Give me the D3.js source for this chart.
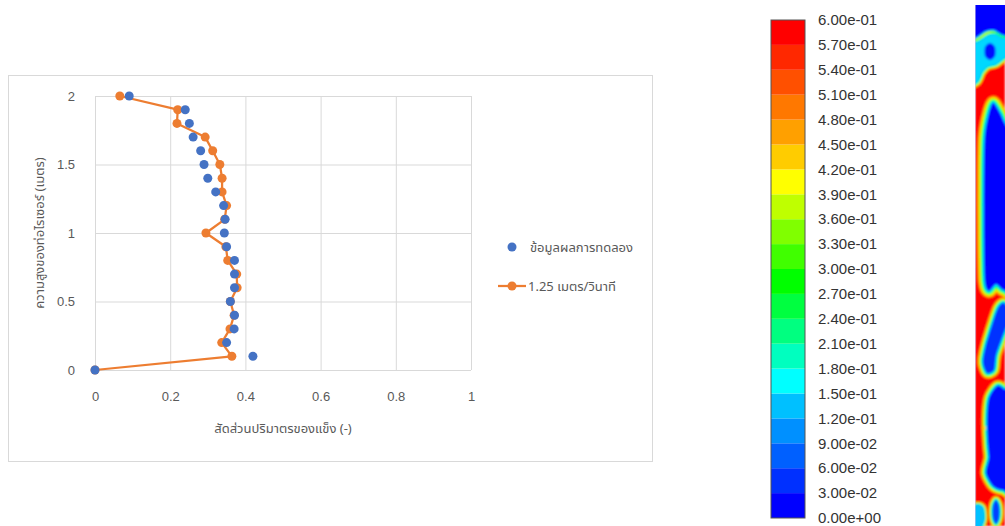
<!DOCTYPE html>
<html>
<head>
<meta charset="utf-8">
<script src="https://cdn.jsdelivr.net/npm/d3@7/dist/d3.min.js"></script>
<style>
  html, body { margin: 0; padding: 0; background: #ffffff; }
  svg { display: block; }
  .thai { font-family: "Noto Sans Thai", "Leelawadee UI", Tahoma, "Liberation Sans", "DejaVu Sans", sans-serif; }
</style>
</head>
<body>
<svg id="chart" width="1005" height="526"></svg>
<script>
// Riser height (m) for each measurement level
const heights = [0, 0.1, 0.2, 0.3, 0.4, 0.5, 0.6, 0.7, 0.8, 0.9, 1.0,
                 1.1, 1.2, 1.3, 1.4, 1.5, 1.6, 1.7, 1.8, 1.9, 2.0];
// Experimental solid volume fraction
const experiment = [0, 0.42, 0.35, 0.37, 0.371, 0.36, 0.371, 0.371, 0.371, 0.35, 0.344,
                    0.346, 0.342, 0.321, 0.30, 0.29, 0.281, 0.261, 0.251, 0.24, 0.091];
// Simulated solid volume fraction at 1.25 m/s
const simulation = [0, 0.364, 0.337, 0.359, 0.37, 0.36, 0.378, 0.377, 0.353, 0.348, 0.295,
                    0.345, 0.35, 0.338, 0.338, 0.332, 0.313, 0.293, 0.218, 0.22, 0.066];
const xTicks = [0, 0.2, 0.4, 0.6, 0.8, 1];
const yTicks = [0, 0.5, 1, 1.5, 2];
const seriesNames = ["ข้อมูลผลการทดลอง", "1.25 เมตร/วินาที"];
const xTitle = "สัดส่วนปริมาตรของแข็ง (-)";
const yTitle = "ความสูงของท่อไรเซอร์ (เมตร)";

// Contour legend levels and band colours (bottom to top)
const contourLevels = ["0.00e+00", "3.00e-02", "6.00e-02", "9.00e-02", "1.20e-01", "1.50e-01",
  "1.80e-01", "2.10e-01", "2.40e-01", "2.70e-01", "3.00e-01", "3.30e-01", "3.60e-01",
  "3.90e-01", "4.20e-01", "4.50e-01", "4.80e-01", "5.10e-01", "5.40e-01", "5.70e-01", "6.00e-01"];
const bandColors = ["#0000ff", "#0030ff", "#0060ff", "#0090ff", "#00c0ff", "#00ffff",
  "#00ffbf", "#00ff80", "#00ff40", "#00ff00", "#40ff00", "#80ff00", "#bfff00",
  "#ffff00", "#ffcc00", "#ffa000", "#ff7800", "#ff5000", "#ff2800", "#ff0000"];

const svg = d3.select("#chart");
const C_BLUE = "#4472c4", C_ORANGE = "#ed7d31", C_TEXT = "#595959", C_GRID = "#d9d9d9";

// ---- chart frame ----
svg.append("rect").attr("x", 8.5).attr("y", 75.5).attr("width", 644).attr("height", 386)
  .attr("fill", "#fff").attr("stroke", C_GRID).attr("stroke-width", 1);

const x = d3.scaleLinear().domain([0, 1]).range([95, 471]);
const y = d3.scaleLinear().domain([0, 2]).range([370, 96]);

// gridlines + tick labels
const gx = svg.append("g").attr("transform", `translate(0,${y(0)})`)
  .call(d3.axisBottom(x).tickValues(xTicks).tickSize(-(y(0) - y(2))).tickPadding(22)
    .tickFormat(d3.format("~g")));
const gy = svg.append("g").attr("transform", `translate(${x(0)},0)`)
  .call(d3.axisLeft(y).tickValues(yTicks).tickSize(-(x(1) - x(0))).tickPadding(20)
    .tickFormat(d3.format("~g")));
[gx, gy].forEach(g => {
  g.select(".domain").remove();
  g.selectAll(".tick line").attr("stroke", C_GRID).attr("stroke-width", 1);
  g.selectAll(".tick text").attr("fill", C_TEXT).attr("font-size", 13)
    .attr("font-family", "'Liberation Sans', Arial, sans-serif");
});

// axis titles
svg.append("text").attr("class", "thai").attr("x", (x(0) + x(1)) / 2).attr("y", 433)
  .attr("text-anchor", "middle").attr("font-size", 13).attr("fill", C_TEXT).text(xTitle);
svg.append("text").attr("class", "thai")
  .attr("transform", `translate(44,${(y(0) + y(2)) / 2}) rotate(-90)`)
  .attr("text-anchor", "middle").attr("font-size", 13).attr("fill", C_TEXT).text(yTitle);

// simulated series (line + markers)
const pts = d => heights.map((h, i) => [d[i], h]);
const line = d3.line().x(d => x(d[0])).y(d => y(d[1]));
svg.append("path").datum(pts(simulation)).attr("d", line)
  .attr("fill", "none").attr("stroke", C_ORANGE).attr("stroke-width", 2.25)
  .attr("stroke-linejoin", "round");
svg.append("g").selectAll("circle").data(pts(simulation)).join("circle")
  .attr("cx", d => x(d[0])).attr("cy", d => y(d[1])).attr("r", 4.5).attr("fill", C_ORANGE);

// experimental markers
svg.append("g").selectAll("circle").data(pts(experiment)).join("circle")
  .attr("cx", d => x(d[0])).attr("cy", d => y(d[1])).attr("r", 4.5).attr("fill", C_BLUE);

// legend
const lg = svg.append("g");
lg.append("circle").attr("cx", 512).attr("cy", 247).attr("r", 4.5).attr("fill", C_BLUE);
lg.append("text").attr("class", "thai").attr("x", 530).attr("y", 252).attr("font-size", 13)
  .attr("fill", C_TEXT).text(seriesNames[0]);
lg.append("line").attr("x1", 498).attr("x2", 526).attr("y1", 286).attr("y2", 286)
  .attr("stroke", C_ORANGE).attr("stroke-width", 2.25);
lg.append("circle").attr("cx", 512).attr("cy", 286).attr("r", 4.5).attr("fill", C_ORANGE);
lg.append("text").attr("class", "thai").attr("x", 528).attr("y", 291).attr("font-size", 13)
  .attr("fill", C_TEXT).text(seriesNames[1]);

// ---- contour colour bar ----
const cb = d3.scaleLinear().domain([0, contourLevels.length - 1]).range([518, 20]);
const bar = svg.append("g");
bar.selectAll("rect").data(bandColors).join("rect")
  .attr("x", 771).attr("width", 34)
  .attr("y", (d, i) => cb(i + 1)).attr("height", (d, i) => cb(i) - cb(i + 1))
  .attr("fill", d => d);
bar.append("rect").attr("x", 771).attr("y", cb(contourLevels.length - 1)).attr("width", 34)
  .attr("height", cb(0) - cb(contourLevels.length - 1))
  .attr("fill", "none").attr("stroke", "#555").attr("stroke-width", 1);
bar.selectAll("text").data(contourLevels).join("text")
  .attr("x", 818).attr("y", (d, i) => cb(i)).attr("dy", "0.35em")
  .attr("font-family", "'Liberation Sans', Arial, sans-serif").attr("font-size", 15)
  .attr("fill", "#333").text(d => d);

// ---- volume fraction field in the riser (contour strip) ----
// Low-concentration pockets drawn as outlines with graded rims over the dense phase.
const pockets = [
  { pts: [[965,0],[1015,0],[1015,34],[1003,35],[994,30],[986,31],[980,35],[975,38],[965,40]], rim: 2.5, core: "#0000ff" },
  { pts: [[965,44],[976,43],[982,40],[988,36],[995,35],[1003,39],[1015,39],[1015,52],[1004,58],
          [996,64],[988,66],[982,72],[977,82],[965,84]], rim: 3, core: "#00d8ff" },
  { pts: [[990,43],[995,47],[995,56],[990,60],[985,56],[985,47]], rim: 1, core: "#0010ff" },
  { pts: [[993,103],[997,108],[1003,120],[1012,150],[1012,282],[1004,290],[996,284],[989,291],
          [985,282],[984,240],[984,170],[985,135],[989,113]], rim: 5, core: "#0000ff" },
  { pts: [[1004,303],[1010,315],[1003,335],[996,355],[994,370],[987,373],[983,362],[986,345],
          [993,322],[998,308]], rim: 4, core: "#0030ff" },
  { pts: [[997,386],[1004,389],[1012,400],[1012,488],[1003,490],[993,486],[986,473],[989,458],
          [988,445],[987,420],[989,398]], rim: 4, core: "#0010ff" },
  { pts: [[996,500],[999,506],[999,518],[996,524],[993,518],[993,506]], rim: 3, core: "#0040ff" },
  { pts: [[978,505],[983,508],[984,520],[979,530],[972,525],[973,508]], rim: 2.5, core: "#00c0ff" }
];
const rims = [
  { color: "#ff8000", k: 1.35 },
  { color: "#ffc000", k: 1.15 },
  { color: "#ffff00", k: 1.0 },
  { color: "#80ff00", k: 0.83 },
  { color: "#00ff00", k: 0.66 },
  { color: "#00ff99", k: 0.5 },
  { color: "#00ffff", k: 0.33 },
  { color: "#0090ff", k: 0.15 }
];
const defs = svg.append("defs");
defs.append("clipPath").attr("id", "stripClip")
  .append("rect").attr("x", 975).attr("y", 5).attr("width", 30).attr("height", 521);
// blur region kept inside the visible page
defs.append("filter").attr("id", "soft").attr("filterUnits", "userSpaceOnUse")
  .attr("x", 975).attr("y", 5).attr("width", 30).attr("height", 521)
  .append("feGaussianBlur").attr("stdDeviation", 1);

const strip = svg.append("g").attr("clip-path", "url(#stripClip)");
const field = strip.append("g").attr("filter", "url(#soft)");
field.append("rect").attr("x", 975).attr("y", 5).attr("width", 30).attr("height", 521).attr("fill", "#ff0000");
const blob = d3.line().curve(d3.curveCardinalClosed.tension(0.2));
rims.forEach(r => {
  field.append("g").selectAll("path").data(pockets).join("path")
    .attr("d", d => blob(d.pts)).attr("fill", r.color)
    .attr("stroke", r.color).attr("stroke-width", d => 2 * d.rim * r.k)
    .attr("stroke-linejoin", "round");
});
field.append("g").selectAll("path").data(pockets).join("path")
  .attr("d", d => blob(d.pts)).attr("fill", d => d.core);
// small dense spot left of the lower pocket
field.append("circle").attr("cx", 984).attr("cy", 428).attr("r", 2).attr("fill", "#ffd000");
strip.append("line").attr("x1", 975.5).attr("x2", 975.5).attr("y1", 5).attr("y2", 526)
  .attr("stroke", "#c8c0e8").attr("stroke-width", 1).attr("opacity", 0.6);
</script>
</body>
</html>
